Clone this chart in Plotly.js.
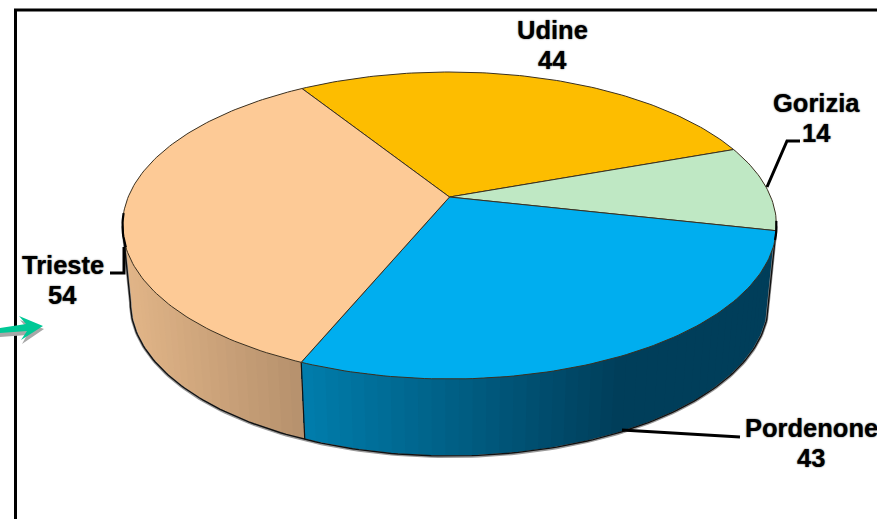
<!DOCTYPE html>
<html>
<head>
<meta charset="utf-8">
<script src="https://cdn.plot.ly/plotly-3.0.1.min.js"></script>
<style>html,body{margin:0;padding:0;background:#fff}#chart{width:877px;height:519px}</style>
</head>
<body>
<div id="chart"></div>
<script>
// data
const categories = ['Udine', 'Gorizia', 'Pordenone', 'Trieste'];
const values = [44, 14, 43, 54];
const topColors = ['#FDBD00', '#BFE8C4', '#00AEEF', '#FDCA96'];
// side gradient: x position and colour at each end of the visible wall
const sideFrom = [null, [0,70,100], [0,125,172], [224,180,135]];
const sideTo   = [null, [0,70,100], [0,62,90],  [181,144,108]];
const sideSpan = [null, [760,780], [302,620], [130,305]];
const labelX = [552, 816, 811, 62.5];
const nameY = [30, 103, 428, 265];
const valueY = [60, 133, 458, 295];
const leaderX = [null, [767,787,800], [622,740], [124,124,110]];
const leaderY = [null, [187,141,141], [430,437], [247,273,273]];

// projection of the tilted disc
const cx = 449.5, cy = 197, a = 321.3, b = 148.2, k = 0.1857;
const startAngle = -32.1, wallDepth = 77, wallScale = 0.976;
const total = values.reduce((s, v) => s + v, 0);
const rad = d => d * Math.PI / 180;
function topPt(d) {
  const u = Math.sin(rad(d)), v = -Math.cos(rad(d)), w = 1 - k * v;
  return [cx + a * u / w, cy + b * v / w];
}
function lowPt(d) {
  const p = topPt(d);
  return [cx + (p[0] - cx) * wallScale, p[1] + wallDepth];
}
function range(from, to, step) {
  const r = [];
  for (let d = from; d < to; d += step) r.push(d);
  r.push(to);
  return r;
}
const edgeA = 100.7, edgeB = 259.3;   // where the rim turns away from the viewer
const traces = [];
const noHover = {hoverinfo: 'skip', showlegend: false, mode: 'lines'};
const bounds = [];
let acc = startAngle;
values.forEach((v, i) => { const e = acc + v / total * 360; bounds.push([acc, e]); acc = e; });

// walls: every band runs to the far end of its slice, so later bands paint over it with no seams
bounds.slice().reverse().forEach((bd, ri) => {
  const i = bounds.length - 1 - ri;
  const from = Math.max(bd[0], edgeA), to = Math.min(bd[1], edgeB);
  if (to <= from || !sideFrom[i]) return;
  const steps = range(from, to, 2);
  // walk from the high angle (left on screen) for Trieste and Pordenone alike
  for (let j = 0; j < steps.length - 1; j++) {
    const rest = steps.slice(j);
    const poly = rest.map(topPt).concat(rest.slice().reverse().map(lowPt));
    const mx = (topPt(steps[j])[0] + topPt(steps[j + 1])[0]) / 2;
    const t = Math.min(1, Math.max(0, (mx - sideSpan[i][0]) / (sideSpan[i][1] - sideSpan[i][0])));
    const c = sideFrom[i].map((c0, q) => Math.round(c0 + (sideTo[i][q] - c0) * t));
    const col = 'rgb(' + c.join(',') + ')';
    traces.push(Object.assign({}, noHover, {
      x: poly.map(q => q[0]), y: poly.map(q => q[1]), fill: 'toself', fillcolor: col,
      line: {width: 0}
    }));
  }
});

// wall outline: soft shadow, then the dark rim
const rimAngles = range(edgeA, edgeB, 1);
const silhouette = [topPt(edgeA)].concat(rimAngles.map(lowPt), [topPt(edgeB)]);
traces.push(Object.assign({}, noHover, {
  x: silhouette.map(p => p[0]), y: silhouette.map(p => p[1] + 0.8),
  line: {color: '#9a9a9a', width: 2.6}
}));
traces.push(Object.assign({}, noHover, {
  x: silhouette.map(p => p[0]), y: silhouette.map(p => p[1]),
  line: {color: '#111', width: 1.4}
}));
// wall edge between Pordenone and Trieste
const seam = bounds[2][1];
traces.push(Object.assign({}, noHover, {
  x: [topPt(seam)[0], lowPt(seam)[0]], y: [topPt(seam)[1], lowPt(seam)[1]],
  line: {color: '#111', width: 1.2}
}));

// top face
bounds.forEach((bd, i) => {
  const arc = range(bd[0], bd[1], 1).map(topPt);
  traces.push({
    name: categories[i], x: [cx].concat(arc.map(p => p[0]), [cx]), y: [cy].concat(arc.map(p => p[1]), [cy]),
    mode: 'lines', fill: 'toself', fillcolor: topColors[i],
    line: {color: '#3a3020', width: 1}, hoverinfo: 'name', showlegend: false
  });
});

// heavy rim accents at the two turning points
[[251.4, 263.9], [99, 106]].forEach(s => {
  const arc = range(s[0], s[1], 1).map(topPt);
  traces.push(Object.assign({}, noHover, {
    x: arc.map(p => p[0]), y: arc.map(p => p[1]), line: {color: '#000', width: 2.2}
  }));
});

// leaders
leaderX.forEach((lx, i) => {
  if (!lx) return;
  traces.push(Object.assign({}, noHover, {x: lx, y: leaderY[i], line: {color: '#000', width: 3}}));
});

const labelFont = {family: '"Liberation Sans", Arial, sans-serif', size: 25.5, color: '#000', weight: 700, shadow: '0 0 1.5px #333'};
const annotations = [];
categories.forEach((c, i) => {
  [[c, nameY[i]], [String(values[i]), valueY[i]]].forEach(e => annotations.push({
    x: labelX[i], y: e[1], xref: 'x', yref: 'y', showarrow: false, xanchor: 'center', yanchor: 'middle',
    text: e[0], font: labelFont
  }));
});

const shapes = [
  {type: 'path', xref: 'x', yref: 'y', layer: 'above', path: 'M 15.5 519 L 15.5 10 L 877 10',
   line: {color: '#000', width: 3}},
  {type: 'path', xref: 'x', yref: 'y', layer: 'above',
   path: 'M 0 331 L 26 327 L 20 320 L 44 329 L 22 344 L 27 335 L 0 337 Z',
   fillcolor: '#a8a8a8', line: {width: 0}},
  {type: 'path', xref: 'x', yref: 'y', layer: 'above',
   path: 'M 0 328 L 26 324 L 19 316 L 43 326 L 21 340 L 27 331 L 0 333 Z',
   fillcolor: '#00C896', line: {width: 0}}
];

const layout = {
  width: 877, height: 519, margin: {l: 0, r: 0, t: 0, b: 0},
  paper_bgcolor: '#fff', plot_bgcolor: '#fff', showlegend: false,
  xaxis: {range: [0, 877], visible: false, fixedrange: true},
  yaxis: {range: [519, 0], visible: false, fixedrange: true},
  annotations, shapes
};
Plotly.newPlot('chart', traces, layout, {displayModeBar: false, staticPlot: true});
</script>
</body>
</html>
